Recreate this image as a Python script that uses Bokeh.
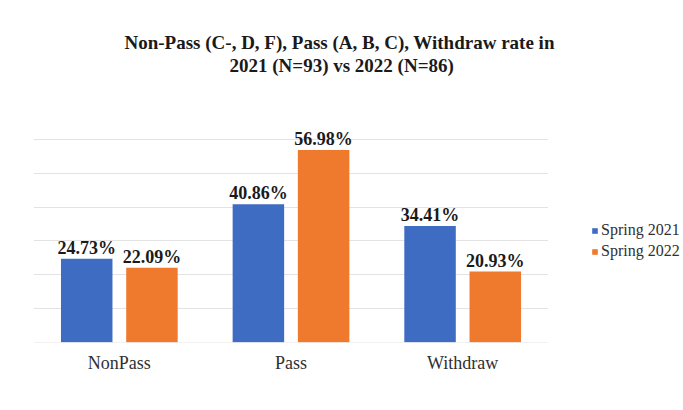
from bokeh.plotting import figure
from bokeh.models import (ColumnDataSource, FactorRange, Legend, LegendItem, Title,
                          FixedTicker, Range1d)
from bokeh.transform import dodge
from bokeh.core.properties import value
from bokeh.embed import file_html
from bokeh.resources import INLINE

categories = ["NonPass", "Pass", "Withdraw"]
series_names = ["Spring 2021", "Spring 2022"]
spring_2021 = [24.73, 40.86, 34.41]
spring_2022 = [22.09, 56.98, 20.93]
y_ticks = [0, 10, 20, 30, 40, 50, 60]
title_lines = ["Non-Pass (C-, D, F), Pass (A, B, C), Withdraw rate in",
               "2021 (N=93) vs 2022 (N=86)"]

BLUE = "#3f6cc3"
ORANGE = "#ef7a2d"
FONT = "Liberation Serif"

source = ColumnDataSource(dict(
    cat=categories,
    s21=spring_2021,
    s22=spring_2022,
    l21=[f"{v:.2f}%" for v in spring_2021],
    l22=[f"{v:.2f}%" for v in spring_2022],
))

p = figure(x_range=FactorRange(*categories), y_range=Range1d(-0.1, 65.1),
           frame_width=515, frame_height=220,
           output_backend="svg", toolbar_location=None,
           min_border_left=33, min_border_right=135, min_border_top=122,
           min_border_bottom=68)
p.outline_line_color = None
p.background_fill_color = "white"
p.border_fill_color = "white"

r1 = p.vbar(x=dodge("cat", -0.19, range=p.x_range), top="s21", width=0.30,
            source=source, fill_color=BLUE, line_color=None)
r2 = p.vbar(x=dodge("cat", 0.19, range=p.x_range), top="s22", width=0.30,
            source=source, fill_color=ORANGE, line_color=None)

for off, col in ((-0.19, "l21"), (0.19, "l22")):
    p.text(x=dodge("cat", off, range=p.x_range), y=col.replace("l", "s"), text=col,
           source=source, text_align="center", text_baseline="bottom",
           y_offset=-1, text_font=value(FONT), text_font_size="18px",
           text_font_style="bold", text_color="#1a1a1a")

p.yaxis.visible = False
p.ygrid.ticker = FixedTicker(ticks=y_ticks)
p.ygrid.grid_line_color = "#e3e3e3"
p.xgrid.visible = False

ax = p.xaxis[0]
ax.axis_line_color = None
ax.major_tick_line_color = None
ax.minor_tick_line_color = None
ax.major_tick_out = 0
ax.major_tick_in = 0
ax.major_label_standoff = 10
ax.major_label_text_font = FONT
ax.major_label_text_font_size = "18px"
ax.major_label_text_color = "#303030"

spacer = Title(text=" ", text_font_size="1px", standoff=44)
t2 = Title(text=title_lines[1], align="left", offset=196, text_font=FONT,
           text_font_size="19px", text_font_style="bold", text_color="#1a1a1a",
           standoff=0)
t1 = Title(text=title_lines[0], align="left", offset=91, text_font=FONT,
           text_font_size="19px", text_font_style="bold", text_color="#1a1a1a",
           standoff=0)
p.add_layout(spacer, "above")
p.add_layout(t2, "above")
p.add_layout(t1, "above")

legend = Legend(items=[LegendItem(label=series_names[0], renderers=[r1]),
                       LegendItem(label=series_names[1], renderers=[r2])],
                location=(43, 82), orientation="vertical",
                border_line_color=None, background_fill_alpha=0,
                glyph_width=7, glyph_height=7, label_standoff=3,
                label_text_font=FONT, label_text_font_size="16px",
                label_text_color="#303030", label_height=16, spacing=3,
                padding=0, margin=0)
p.add_layout(legend, "right")

open("out.html", "w").write(file_html(p, INLINE))
